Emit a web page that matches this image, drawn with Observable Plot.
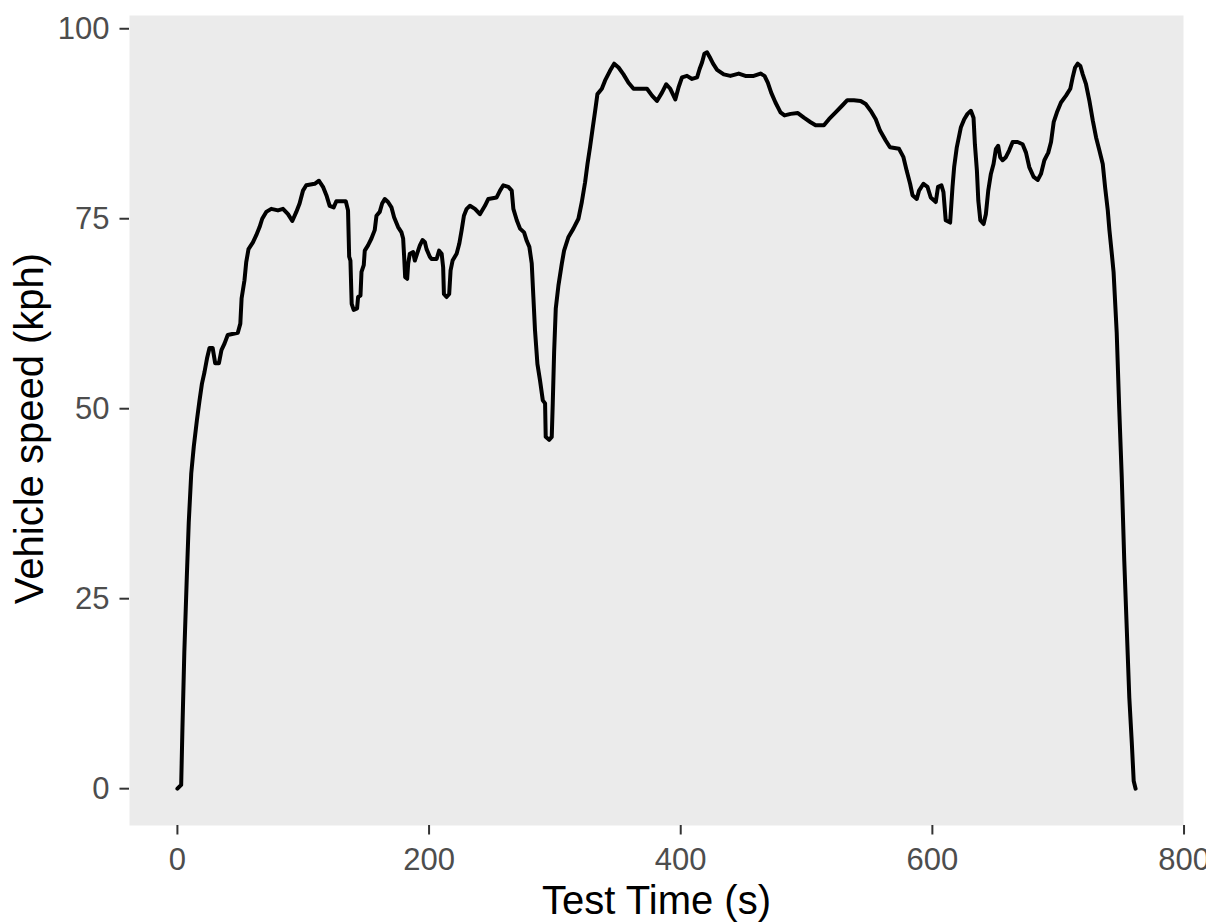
<!DOCTYPE html>
<html>
<head>
<meta charset="utf-8">
<script src="https://cdn.jsdelivr.net/npm/d3@7"></script>
<script src="https://cdn.jsdelivr.net/npm/@observablehq/plot@0.6"></script>
<style>
  body { margin: 0; background: #ffffff; }
</style>
</head>
<body>
<div id="chart"></div>
<script>
// Drive-cycle trace: elapsed test time (s) and vehicle speed (kph)
const testTime = [
  0, 3, 4, 5.5, 7.5, 9, 11, 13, 15.5, 17.5, 19.5, 21.5, 23.5, 25.5, 28, 30, 33, 35, 37.5, 40,
  48, 50, 51, 53.3, 54.7, 56.5, 60, 62.6, 65.3, 67.4, 70.6, 74.6, 79.9, 83.9, 87.9, 91.3, 94.5, 97.1, 99.8, 102.4,
  109.1, 112.5, 115.7, 118.4, 121, 124.2, 126.3, 133.8, 135.6, 136.5, 137.5, 138.5, 140.1, 142.8, 143.6, 145.5, 146.3, 148.1, 148.9, 151.5,
  154.2, 156.8, 158.2, 160.8, 162.7, 164.8, 167.4, 170.1, 172.2, 175.4, 178.1, 179.4, 180.2, 181, 182.6, 183.4, 184.7, 187.3, 188.7, 190.5,
  192.7, 194.8, 196.7, 198, 200.6, 202, 206, 208, 210, 211.2, 211.8, 213.9, 216, 217.1, 218.7, 221.9, 224, 225.9, 227.7, 229.9,
  232.5, 236.5, 240.4, 244.4, 247.1, 253.7, 256.4, 259, 263, 265.7, 267, 269.7, 272.3, 275.5, 277.6, 279.7, 281.6, 282.9, 284.2, 286.1,
  288.2, 290.4, 292.2, 292.7, 295.4, 297.5, 298.3, 299.4, 300.7, 302.8, 305.5, 307.3, 310.8, 314.7, 318.7, 321.4, 324, 325.9, 328, 330.1,
  332, 333.8, 337.3, 339.9, 343.9, 347.1, 350.6, 354.5, 358.5, 362.5, 373.2, 377.2, 381.1, 385.1, 388.5, 391.7, 395.7, 398.3, 401, 405,
  409, 413, 415, 417, 418.8, 420.9, 423, 425.7, 428.9, 434.2, 439.5, 446.1, 451.4, 458, 463.4, 466.6, 469.2, 471.9, 475.3, 479.3,
  482.5, 487.3, 493.1, 497.9, 503.2, 507.2, 513.8, 517.8, 523.1, 528.4, 532.4, 537.6, 543, 547, 551, 555, 558.4, 562.9, 566.3, 573.5,
  577, 579.6, 582.3, 584.2, 587.6, 589.4, 592.9, 596.1, 598.7, 602.7, 604.5, 607.2, 608.8, 610.6, 614.1, 616, 617.3, 619.4, 622.6, 625.3,
  627.9, 630.6, 632.7, 633.8, 635.4, 636.5, 638.1, 640.7, 642.5, 644.4, 646.5, 648.6, 650.5, 652.3, 653.9, 655.8, 658.4, 661.1, 663.8, 667.7,
  671.7, 674.4, 677, 680.5, 683.7, 686.3, 689, 692.1, 694.3, 696.4, 699, 702.2, 706.2, 709.6, 711.5, 713.4, 715.5, 717.6, 719.5, 722.1,
  724.8, 727.5, 730.1, 732.7, 735.4, 737.3, 739.4, 740.7, 742.6, 744, 746.5, 748.5, 750.5, 752.5, 754.5, 756.5, 758.5, 760, 761.5
];
const vehicleSpeed = [
  0, 0.5, 8, 18, 28, 35, 41.5, 45, 48.5, 51, 53.3, 54.8, 56.6, 58, 58, 56, 56, 57.7, 58.6, 59.7,
  60, 61.2, 64.5, 66.9, 69.3, 71, 71.9, 72.8, 73.9, 75, 75.9, 76.3, 76.1, 76.3, 75.6, 74.7, 75.9, 77, 78.7, 79.4,
  79.6, 80, 79.2, 78.1, 76.7, 76.5, 77.3, 77.3, 76.1, 70, 69.5, 63.8, 63, 63.2, 64.7, 64.9, 68, 68.9, 70.8, 71.5,
  72.4, 73.5, 75.4, 75.9, 77, 77.6, 77.2, 76.5, 75.2, 73.9, 73.2, 72.4, 70, 67.3, 67.1, 69.1, 70.4, 70.6, 69.5, 70.4,
  71.5, 72.2, 71.9, 71, 70, 69.7, 69.7, 70.8, 70.4, 68.6, 65.1, 64.7, 65.1, 68.2, 69.5, 70.4, 71.7, 73.5, 75.4, 76.3,
  76.7, 76.3, 75.6, 76.7, 77.6, 77.8, 78.7, 79.4, 79.2, 78.7, 76.3, 74.8, 73.7, 73.2, 72.1, 71.3, 69.1, 64.7, 60.3, 55.9,
  53.7, 51.1, 50.7, 46.3, 45.9, 46.3, 50.7, 57.5, 63.2, 66.2, 69.1, 70.8, 72.6, 73.7, 75, 77.2, 79.8, 82.2, 84.5, 87,
  89.2, 91.4, 92.1, 93.2, 94.5, 95.4, 94.9, 94, 92.9, 92.1, 92.1, 91.2, 90.5, 91.6, 92.7, 92.1, 90.7, 92.3, 93.6, 93.8,
  93.4, 93.6, 94.7, 95.6, 96.7, 96.9, 96.3, 95.4, 94.6, 94, 93.8, 94.1, 93.8, 93.8, 94.1, 93.8, 92.9, 91.6, 90.3, 89,
  88.6, 88.8, 88.9, 88.3, 87.7, 87.3, 87.3, 88.1, 89, 89.9, 90.6, 90.6, 90.5, 90.1, 89.2, 88.1, 86.6, 85.3, 84.4, 84.2,
  83.1, 81.3, 79.6, 78.1, 77.6, 78.7, 79.6, 79.2, 77.8, 77.2, 79.2, 79.4, 78.5, 74.8, 74.5, 79.2, 81.8, 84.4, 87, 88.1,
  88.8, 89.2, 88.3, 84.8, 81.3, 77.4, 74.8, 74.3, 75.6, 78.7, 80.9, 82.2, 84.2, 84.6, 83.1, 82.7, 83.1, 84, 85.1, 85.1,
  84.8, 83.7, 81.8, 80.5, 80.1, 80.9, 82.7, 83.7, 85.1, 87.7, 89, 90.3, 91.2, 92.1, 93.6, 94.9, 95.4, 95.1, 94, 92.7,
  90.5, 87.9, 85.7, 84, 82.2, 79.1, 76.1, 73.5, 70.4, 68, 60, 50, 41, 30, 21, 12, 6, 1, 0
];

const xTicks = [0, 200, 400, 600, 800];
const yTicks = [0, 25, 50, 75, 100];
const xTitle = "Test Time (s)";
const yTitle = "Vehicle speed (kph)";

const trace = testTime.map((t, i) => ({ t, speed: vehicleSpeed[i] }));

// pad each continuous domain by 5% of its range on both sides
function padded(values) {
  const [lo, hi] = d3.extent(values);
  const pad = (hi - lo) * 0.05;
  return [lo - pad, hi + pad];
}

const tickText = "#4D4D4D";
const tickLine = "#333333";

const chart = Plot.plot({
  width: 1206,
  height: 922,
  marginLeft: 129,
  marginRight: 23,
  marginTop: 15,
  marginBottom: 97,
  style: { fontFamily: "'Liberation Sans', Arial, sans-serif", background: "#ffffff" },
  x: { domain: padded(testTime) },
  y: { domain: padded(vehicleSpeed) },
  marks: [
    Plot.frame({ fill: "#EBEBEB", stroke: "none" }),
    Plot.axisX({
      ticks: xTicks, tickSize: 9.5, tickPadding: 13, fontSize: 31,
      fill: tickText, stroke: tickLine, strokeWidth: 2, label: null
    }),
    Plot.axisY({
      ticks: yTicks, tickSize: 9.5, tickPadding: 10.5, fontSize: 31,
      fill: tickText, stroke: tickLine, strokeWidth: 2, label: null
    }),
    Plot.line(trace, {
      x: "t", y: "speed", stroke: "#000000", strokeWidth: 4,
      strokeLinejoin: "round", strokeLinecap: "round"
    }),
    Plot.text([xTitle], {
      text: d => d, frameAnchor: "bottom", dy: 76, lineAnchor: "middle",
      textAnchor: "middle", fontSize: 40, fill: "#000000"
    }),
    Plot.text([yTitle], {
      text: d => d, frameAnchor: "left", dx: -99, dy: 8, rotate: -90, lineAnchor: "middle",
      textAnchor: "middle", fontSize: 40, fill: "#000000"
    })
  ]
});

document.getElementById("chart").append(chart);
</script>
</body>
</html>
